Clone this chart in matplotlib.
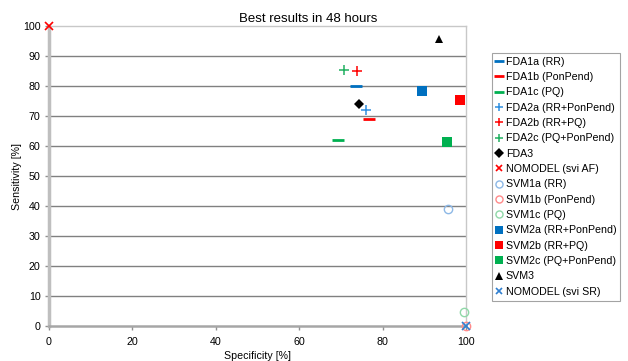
import matplotlib
matplotlib.use("Agg")
import matplotlib.pyplot as plt

plt.rcParams['font.family'] = ['Liberation Sans', 'DejaVu Sans']

# Specificity / sensitivity (%) of each method, best results in 48 hours
labels = [
    "FDA1a (RR)", "FDA1b (PonPend)", "FDA1c (PQ)",
    "FDA2a (RR+PonPend)", "FDA2b (RR+PQ)", "FDA2c (PQ+PonPend)",
    "FDA3", "NOMODEL (svi AF)",
    "SVM1a (RR)", "SVM1b (PonPend)", "SVM1c (PQ)",
    "SVM2a (RR+PonPend)", "SVM2b (RR+PQ)", "SVM2c (PQ+PonPend)",
    "SVM3", "NOMODEL (svi SR)",
]
specificity = [73.6, 76.8, 69.2, 76.0, 73.8, 70.8, 74.3, 0.0,
               95.8, 100.0, 99.5, 89.4, 98.5, 95.4, 93.6, 100.0]
sensitivity = [80.1, 69.0, 62.0, 72.1, 84.9, 85.3, 74.0, 100.0,
               38.9, 0.0, 4.6, 78.3, 75.4, 61.4, 95.6, 0.0]

BLUE, RED, GREEN = "#0070C0", "#FF0000", "#00B050"
styles = [
    dict(marker="_", color=BLUE, ms=8, mew=2),
    dict(marker="_", color=RED, ms=8, mew=2),
    dict(marker="_", color=GREEN, ms=8, mew=2),
    dict(marker="+", color="#2F8FE0", ms=6.5, mew=1.1),
    dict(marker="+", color=RED, ms=6.5, mew=1.1),
    dict(marker="+", color="#20B060", ms=6.5, mew=1.1),
    dict(marker="D", color="black", ms=5.5, mew=0),
    dict(marker="x", color=RED, ms=5.5, mew=1.2),
    dict(marker="o", mfc="none", mec="#8DB8E6", ms=6, mew=1),
    dict(marker="o", mfc="none", mec="#FF8A8A", ms=6, mew=1),
    dict(marker="o", mfc="none", mec="#90D8A8", ms=6, mew=1),
    dict(marker="s", color=BLUE, ms=7, mew=0),
    dict(marker="s", color=RED, ms=7, mew=0),
    dict(marker="s", color=GREEN, ms=7, mew=0),
    dict(marker="^", color="black", ms=6, mew=0),
    dict(marker="x", color="#2F7FD0", ms=5.5, mew=1.2),
]

W, H = 628, 361
fig = plt.figure(figsize=(W / 100, H / 100), dpi=100)
ax = fig.add_axes([49 / W, 1 - 326 / H, (466 - 49) / W, (326 - 26) / H])

for x, y, lab, st in zip(specificity, sensitivity, labels, styles):
    ax.plot([x], [y], linestyle="none", label=lab, clip_on=False, zorder=5, **st)

ax.set_xlim(0, 100)
ax.set_ylim(0, 100)
ax.set_xticks(range(0, 101, 20))
ax.set_yticks(range(0, 101, 10))
ax.tick_params(labelsize=7.7, length=3, width=1, color="#909090", pad=3)
ax.tick_params(axis="x", pad=5)

for y in range(10, 100, 10):
    ax.axhline(y, color="#808080", lw=1.0, zorder=1)

ax.spines["left"].set_color("#BFBFBF")
ax.spines["left"].set_linewidth(2.5)
ax.spines["bottom"].set_color("#A6A6A6")
ax.spines["bottom"].set_linewidth(1.8)
ax.spines["top"].set_color("#C8C8C8")
ax.spines["top"].set_linewidth(1)
ax.spines["right"].set_color("#C8C8C8")
ax.spines["right"].set_linewidth(1)

ax.set_xlabel("Specificity [%]", fontsize=7.7, labelpad=3)
ax.set_ylabel("Sensitivity [%]", fontsize=7.7, labelpad=1)
fig.text(308 / W, 1 - 19 / H, "Best results in 48 hours", ha="center", va="center", fontsize=9.5)

leg = fig.legend(loc="upper left", bbox_to_anchor=(492 / W, 1 - 52.5 / H),
                 fontsize=7.7, frameon=True, fancybox=False, handlelength=0.6,
                 handletextpad=0.3, labelspacing=0.5, borderpad=0.38,
                 borderaxespad=0, numpoints=1, markerscale=0.85)
leg.get_frame().set_edgecolor("#8C8C8C")
leg.get_frame().set_linewidth(0.8)

fig.savefig("out.png", dpi=100)
